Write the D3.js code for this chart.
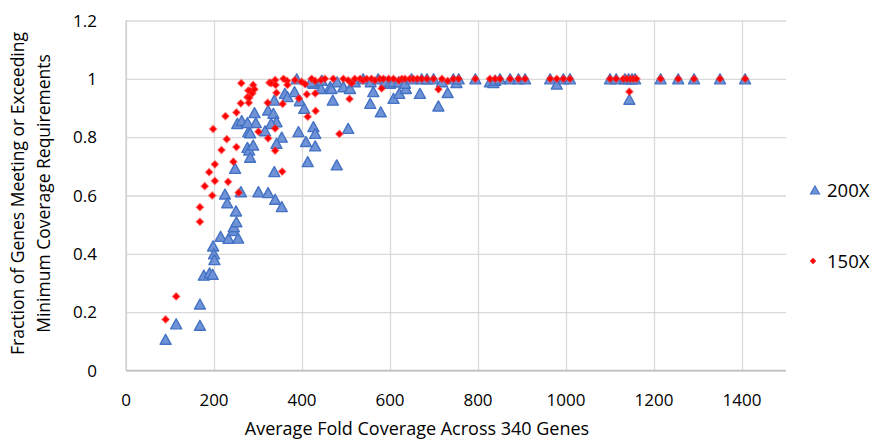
<!DOCTYPE html>
<html>
<head>
<meta charset="utf-8">
<script src="https://cdn.jsdelivr.net/npm/d3@7"></script>
<style>
  body { margin: 0; background: #fff; }
  svg text { font-family: "Open Sans", "Noto Sans", sans-serif; fill: #000; }
</style>
</head>
<body>
<svg id="chart" width="873" height="440"></svg>
<script>
// 200X series: average fold coverage / fraction of genes
const cov200 = [90, 114, 168, 168, 177, 190, 197, 198, 200, 201, 215, 233, 244, 245, 251, 250, 255, 225, 230, 261,
  301, 323, 339, 354, 248, 253, 263, 278, 276, 280, 282, 289, 282, 292, 295, 276, 316, 323, 335, 342,
  330, 337, 337, 354, 361, 367, 383, 388, 392, 395, 405, 409, 413, 426, 430, 430, 426, 443, 464, 470,
  479, 505, 555, 562, 579, 608, 621, 636, 668, 710, 731, 1144, 342,
  420, 445, 467, 480, 494, 509, 520, 539, 556, 573, 589, 600, 608, 620, 634, 649, 672, 684, 699, 718,
  744, 751, 756, 794, 827, 835, 839, 850, 873, 892, 907, 964, 979, 994, 1009, 1100, 1114, 1134, 1142,
  1150, 1157, 1215, 1255, 1291, 1350, 1407]
const frac200 = [0.107, 0.16, 0.155, 0.228, 0.327, 0.335, 0.33, 0.427, 0.40, 0.38, 0.46, 0.453, 0.48, 0.493, 0.51, 0.547, 0.454, 0.605, 0.575, 0.613,
  0.613, 0.61, 0.587, 0.562, 0.693, 0.847, 0.857, 0.819, 0.765, 0.756, 0.731, 0.773, 0.815, 0.884, 0.85, 0.85, 0.822, 0.893, 0.882, 0.853,
  0.847, 0.682, 0.927, 0.8, 0.95, 0.939, 0.956, 1.0, 0.819, 0.925, 0.899, 0.785, 0.716, 0.836, 0.813, 0.77, 0.985, 0.967, 0.973, 0.927,
  0.705, 0.83, 0.916, 0.956, 0.887, 0.933, 0.95, 0.967, 0.95, 0.907, 0.953, 0.93, 0.779,
  0.99, 0.995, 0.967, 0.99, 0.973, 0.967, 0.99, 1.0, 0.99, 1.0, 0.99, 0.985, 0.99, 0.99, 0.985, 1.0, 1.0, 1.0, 1.0, 0.99,
  1.0, 0.987, 1.0, 1.0, 0.99, 0.987, 0.995, 1.0, 1.0, 1.0, 1.0, 1.0, 0.982, 1.0, 1.0, 1.0, 1.0, 1.0, 1.0,
  1.0, 1.0, 1.0, 1.0, 1.0, 1.0, 1.0]

// 150X series
const cov150 = [90, 114, 168, 168, 179, 189, 196, 202, 202, 198, 217, 229, 226, 232, 244, 251, 251, 256, 261, 262,
  276, 278, 279, 280, 282, 287, 289, 292, 301, 322, 323, 326, 330, 339, 340, 339, 339, 342, 355, 356,
  358, 366, 367, 384, 393, 399, 407, 411, 413, 422, 430, 430, 431, 443, 452, 485, 508, 513, 581, 710,
  731, 1144,
  471, 494, 505, 520, 532, 539, 547, 558, 566, 577, 585, 597, 608, 620, 627, 634, 645, 653, 662, 672,
  684, 699, 718, 744, 756, 794, 827, 839, 850, 873, 892, 907, 964, 979, 994, 1009, 1100, 1114, 1130,
  1138, 1146, 1153, 1160, 1215, 1255, 1291, 1350, 1407]
const frac150 = [0.175, 0.254, 0.51, 0.56, 0.632, 0.68, 0.60, 0.65, 0.707, 0.828, 0.756, 0.793, 0.872, 0.647, 0.716, 0.766, 0.885, 0.61, 0.916, 0.985,
  0.937, 0.96, 0.918, 0.935, 0.959, 0.95, 0.979, 0.964, 0.819, 0.918, 0.796, 0.987, 0.985, 0.996, 0.979, 0.83, 0.754, 0.952, 0.682, 0.914,
  1.0, 0.993, 0.979, 0.996, 0.933, 0.99, 0.982, 0.947, 0.87, 1.0, 0.993, 0.95, 0.89, 0.996, 1.0, 0.811, 0.931, 0.985, 0.967, 0.964,
  0.993, 0.956,
  1.0, 1.0, 0.995, 1.0, 1.0, 0.995, 1.0, 1.0, 0.995, 1.0, 1.0, 1.0, 1.0, 0.995, 1.0, 1.0, 1.0, 1.0, 1.0, 1.0,
  1.0, 1.0, 1.0, 1.0, 1.0, 1.0, 1.0, 1.0, 1.0, 1.0, 1.0, 1.0, 1.0, 1.0, 1.0, 1.0, 1.0, 1.0, 1.0,
  1.0, 1.0, 1.0, 1.0, 1.0, 1.0, 1.0, 1.0, 1.0]

const xTicks = [0, 200, 400, 600, 800, 1000, 1200, 1400]
const yTicks = [0, 0.2, 0.4, 0.6, 0.8, 1, 1.2]
const yTickLabels = ['0', '0.2', '0.4', '0.6', '0.8', '1', '1.2']
const seriesNames = ['200X', '150X']

const svg = d3.select('#chart')
const plotL = 126, plotR = 786, plotT = 20.5, plotB = 370.5

const x = d3.scaleLinear().domain([0, 1500]).range([plotL, plotR])
const y = d3.scaleLinear().domain([0, 1.2]).range([plotB, plotT])

// gridlines
svg.append('g')
  .attr('transform', `translate(0, ${plotB})`)
  .call(d3.axisBottom(x).tickValues(xTicks).tickSize(-(plotB - plotT)).tickFormat(''))
  .call(g => g.select('.domain').remove())
  .call(g => g.selectAll('line').attr('stroke', '#d9d9d9').attr('stroke-width', 1.3))

svg.append('g')
  .attr('transform', `translate(${plotL}, 0)`)
  .call(d3.axisLeft(y).tickValues(yTicks).tickSize(-(plotR - plotL)).tickFormat(''))
  .call(g => g.select('.domain').remove())
  .call(g => g.selectAll('line').attr('stroke', '#d9d9d9').attr('stroke-width', 1.3))

// axis lines
svg.append('line').attr('x1', plotL).attr('x2', plotR).attr('y1', plotB).attr('y2', plotB)
  .attr('stroke', '#bfbfbf').attr('stroke-width', 1.3)
svg.append('line').attr('x1', plotL).attr('x2', plotL).attr('y1', plotT).attr('y2', plotB)
  .attr('stroke', '#d0d0d0').attr('stroke-width', 1.3)

// tick labels
svg.append('g').selectAll('text')
  .data(xTicks)
  .join('text')
  .attr('x', d => x(d))
  .attr('y', 406)
  .attr('text-anchor', 'middle')
  .attr('font-size', 17)
  .text(d => d)

svg.append('g').selectAll('text')
  .data(yTicks)
  .join('text')
  .attr('x', 97)
  .attr('y', d => y(d) + 6)
  .attr('text-anchor', 'end')
  .attr('font-size', 17)
  .text((d, i) => yTickLabels[i])

// titles
svg.append('text')
  .attr('x', 417)
  .attr('y', 435)
  .attr('text-anchor', 'middle')
  .attr('font-size', 18)
  .text('Average Fold Coverage Across 340 Genes')

const yTitle = svg.append('text')
  .attr('transform', `translate(0, ${(plotT + plotB) / 2 - 2}) rotate(-90)`)
  .attr('text-anchor', 'middle')
  .attr('font-size', 17.5)
yTitle.append('tspan').attr('x', 0).attr('y', 24).text('Fraction of Genes Meeting or Exceeding')
yTitle.append('tspan').attr('x', 0).attr('y', 50).text('Minimum Coverage Requirements')

// markers
const tri = (w, h) => `M0,${-h / 2}L${w / 2},${h / 2}L${-w / 2},${h / 2}Z`
const dia = r => `M0,${-r}L${r},0L0,${r}L${-r},0Z`

const pts200 = cov200.map((c, i) => [c, frac200[i]])
const pts150 = cov150.map((c, i) => [c, frac150[i]])

svg.append('g').selectAll('path')
  .data(pts200)
  .join('path')
  .attr('d', tri(11, 10))
  .attr('transform', d => `translate(${x(d[0])}, ${y(d[1])})`)
  .attr('fill', '#6f93d6')
  .attr('stroke', '#4472c4')
  .attr('stroke-width', 1.4)
  .attr('stroke-linejoin', 'round')

svg.append('g').selectAll('path')
  .data(pts150)
  .join('path')
  .attr('d', dia(3.6))
  .attr('transform', d => `translate(${x(d[0])}, ${y(d[1])})`)
  .attr('fill', '#ff0000')
  .attr('stroke', '#ff3030')
  .attr('stroke-opacity', 0.45)
  .attr('stroke-width', 1.5)

// legend
const legend = svg.append('g')
legend.append('path')
  .attr('d', tri(9, 8))
  .attr('transform', 'translate(815, 190)')
  .attr('fill', '#6f93d6')
  .attr('stroke', '#4472c4')
  .attr('stroke-width', 1.2)
legend.append('path')
  .attr('d', dia(3.2))
  .attr('transform', 'translate(813, 261)')
  .attr('fill', '#ff0000')
legend.selectAll('text')
  .data(seriesNames)
  .join('text')
  .attr('x', 827)
  .attr('y', (d, i) => [190, 261][i] + 6.5)
  .attr('font-size', 18.5)
  .text(d => d)
</script>
</body>
</html>
